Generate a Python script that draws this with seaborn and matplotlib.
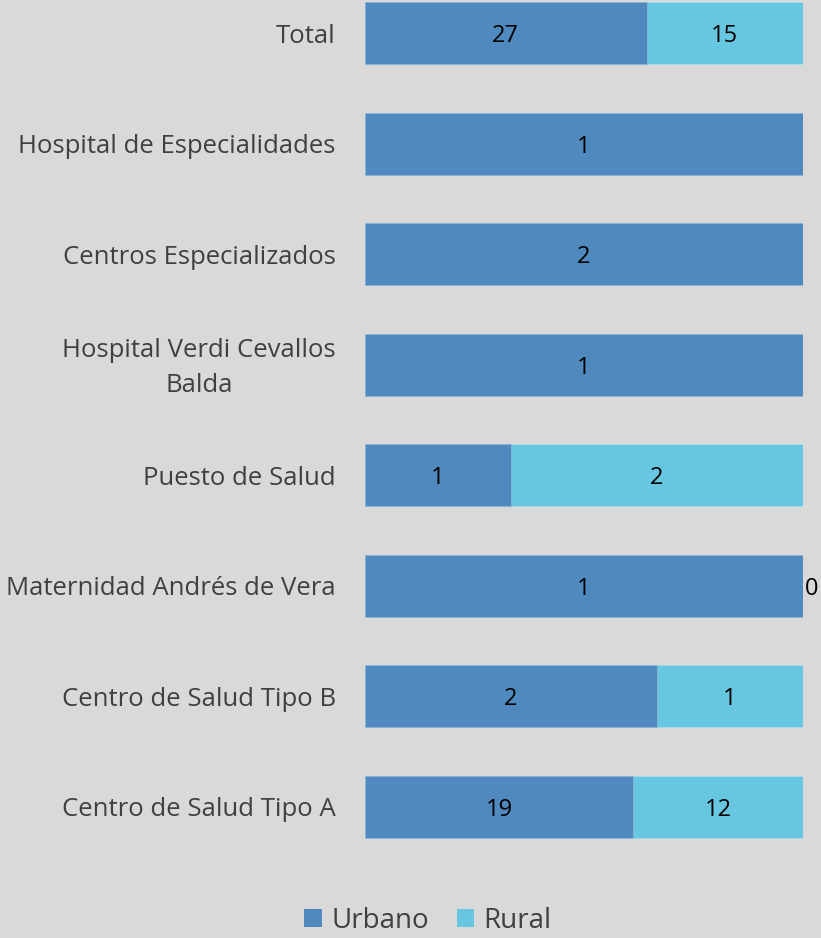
import matplotlib
matplotlib.use("Agg")
import matplotlib.pyplot as plt
import matplotlib.transforms as mtransforms
import numpy as np
import pandas as pd
import seaborn as sns
from matplotlib.patches import Patch

# top to bottom, as shown in the chart
categories = [
    "Total",
    "Hospital de Especialidades",
    "Centros Especializados",
    "Hospital Verdi Cevallos\nBalda",
    "Puesto de Salud",
    "Maternidad Andrés de Vera",
    "Centro de Salud Tipo B",
    "Centro de Salud Tipo A",
]
urbano = [27, 1, 2, 1, 1, 1, 2, 19]
rural = [15, None, None, None, 2, 0, 1, 12]

URB_COLOR = "#4f89bd"
RUR_COLOR = "#68c7e0"
BG = "#d9d9d9"

rur_vals = np.array([r if r is not None else 0 for r in rural], dtype=float)
urb_vals = np.array(urbano, dtype=float)
totals = urb_vals + rur_vals
df = pd.DataFrame({
    "cat": categories,
    "urb_share": urb_vals / totals,
    "all_share": np.ones(len(categories)),
})

sns.set_style("white")
plt.rcParams["font.family"] = ["Open Sans", "DejaVu Sans"]

fig = plt.figure(figsize=(8.21, 9.38), dpi=100, facecolor=BG)
ax = fig.add_axes([365 / 821, (938 - 862) / 938, 438 / 821, (862 + 22) / 938])
ax.set_facecolor(BG)

sns.barplot(data=df, x="all_share", y="cat", orient="h", color=RUR_COLOR,
            width=0.56, saturation=1, edgecolor="#a8dcec", linewidth=0.6, ax=ax)
sns.barplot(data=df, x="urb_share", y="cat", orient="h", color=URB_COLOR,
            width=0.56, saturation=1, edgecolor="#8db3d8", linewidth=0.6, ax=ax)

VAL_FS = 17
for i in range(len(categories)):
    u = df["urb_share"].iloc[i]
    ax.text(u / 2, i + 0.025, f"{urbano[i]}", ha="center", va="center",
            fontsize=VAL_FS, color="black")
    if rural[i] is not None:
        if rural[i] == 0:
            ax.text(1.005, i + 0.025, "0", ha="left", va="center",
                    fontsize=VAL_FS, color="black", clip_on=False)
        else:
            ax.text(u + (1 - u) / 2, i + 0.025, f"{rural[i]}", ha="center",
                    va="center", fontsize=VAL_FS, color="black")

ax.set_xlim(0, 1)
ax.set_ylim(len(categories) - 0.5, -0.5)
ax.set_xlabel("")
ax.set_ylabel("")
ax.set_xticks([])
ax.tick_params(axis="y", length=0, pad=21, labelsize=18.5, labelcolor="#404040")
for lbl in ax.get_yticklabels():
    lbl.set_multialignment("center")
    lbl.set_linespacing(1.55)
    if "\n" in lbl.get_text():
        lbl.set_transform(lbl.get_transform() + mtransforms.ScaledTranslation(
            0, 5 / 100, fig.dpi_scale_trans))
for s in ax.spines.values():
    s.set_visible(False)

handles = [Patch(facecolor=URB_COLOR, edgecolor="none", label="Urbano"),
           Patch(facecolor=RUR_COLOR, edgecolor="none", label="Rural")]
fig.legend(handles=handles, loc="center", bbox_to_anchor=(428 / 821, 1 - 921 / 938),
           ncol=2, frameon=False, fontsize=20, labelcolor="#404040",
           handlelength=0.62, handleheight=0.62, handletextpad=0.35,
           columnspacing=1.0)

fig.savefig("out.png", dpi=100, facecolor=BG)
